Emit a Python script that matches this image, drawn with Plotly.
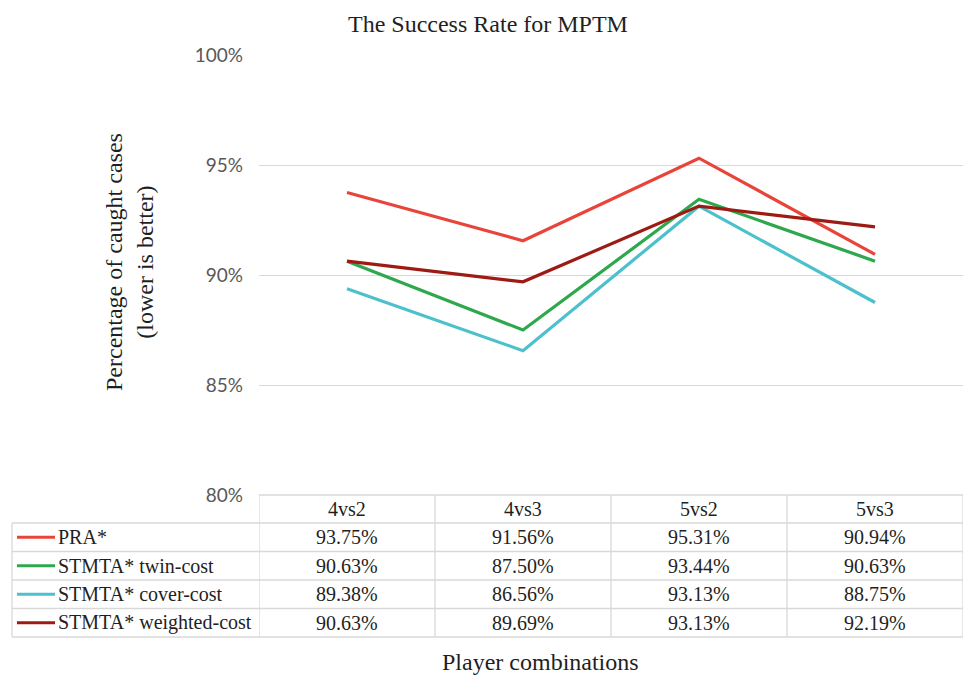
import plotly.graph_objects as go

categories = ["4vs2", "4vs3", "5vs2", "5vs3"]
series_names = ["PRA*", "STMTA* twin-cost", "STMTA* cover-cost", "STMTA* weighted-cost"]
pra = [0.9375, 0.9156, 0.9531, 0.9094]
twin_cost = [0.9063, 0.8750, 0.9344, 0.9063]
cover_cost = [0.8938, 0.8656, 0.9313, 0.8875]
weighted_cost = [0.9063, 0.8969, 0.9313, 0.9219]
series_values = [pra, twin_cost, cover_cost, weighted_cost]
colors = ["#E8443A", "#2EA84C", "#4CC0CC", "#9E1B14"]

W, H = 965, 680
L, R, T, B = 259, 963, 55, 495  # plot area in pixels
PW, PH = R - L, B - T

def px(x):
    return (x - L) / PW

def py(y):
    return (B - y) / PH

serif = "Liberation Serif, Times New Roman, serif"
grid = "#d9d9d9"
txt = "#1f1f1f"

fig = go.Figure()
for name, vals, c in zip(series_names, series_values, colors):
    fig.add_trace(go.Scatter(x=categories, y=vals, mode="lines", name=name,
                             line=dict(color=c, width=3.2), showlegend=False,
                             hoverinfo="skip"))

shapes = []
annotations = []

# table geometry
header_top = B
row_h = 28.5
row_tops = [B + 28 + i * row_h for i in range(len(series_names) + 1)]
table_left = 12
table_bottom = row_tops[-1]

# horizontal lines
shapes.append(dict(type="line", xref="paper", yref="paper", x0=px(L), x1=px(R),
                   y0=py(header_top), y1=py(header_top), line=dict(color=grid, width=1.3)))
for yt in row_tops:
    shapes.append(dict(type="line", xref="paper", yref="paper", x0=px(table_left), x1=px(R),
                       y0=py(yt), y1=py(yt), line=dict(color=grid, width=1.3)))
# vertical lines
shapes.append(dict(type="line", xref="paper", yref="paper", x0=px(table_left), x1=px(table_left),
                   y0=py(row_tops[0]), y1=py(table_bottom), line=dict(color=grid, width=1.3)))
for i in range(len(categories) + 1):
    shapes.append(dict(type="line", xref="x", yref="paper", x0=i - 0.5, x1=i - 0.5,
                       y0=py(header_top), y1=py(table_bottom), line=dict(color=grid, width=1.3)))

# header text
for c in categories:
    annotations.append(dict(x=c, xref="x", y=py((header_top + row_tops[0]) / 2), yref="paper",
                            text=c, showarrow=False, xanchor="center", yanchor="middle",
                            font=dict(family=serif, size=20, color=txt)))
# rows
for r, (name, vals, col) in enumerate(zip(series_names, series_values, colors)):
    yc = (row_tops[r] + row_tops[r + 1]) / 2
    shapes.append(dict(type="line", xref="paper", yref="paper", x0=px(17), x1=px(55),
                       y0=py(yc), y1=py(yc), line=dict(color=col, width=3.2)))
    annotations.append(dict(x=px(56), xref="paper", y=py(yc), yref="paper", text=name,
                            showarrow=False, xanchor="left", yanchor="middle",
                            font=dict(family=serif, size=20, color=txt)))
    for c, v in zip(categories, vals):
        annotations.append(dict(x=c, xref="x", y=py(yc), yref="paper", text=f"{v*100:.2f}%",
                                showarrow=False, xanchor="center", yanchor="middle",
                                font=dict(family=serif, size=20, color=txt)))

# titles
annotations.append(dict(x=px(487.5), xref="paper", y=py(24), yref="paper",
                        text="The Success Rate for MPTM", showarrow=False,
                        xanchor="center", yanchor="middle",
                        font=dict(family=serif, size=24, color=txt)))
annotations.append(dict(x=px(540), xref="paper", y=py(662), yref="paper",
                        text="Player combinations", showarrow=False,
                        xanchor="center", yanchor="middle",
                        font=dict(family=serif, size=24, color=txt)))
annotations.append(dict(x=px(129), xref="paper", y=py(262), yref="paper",
                        text="Percentage of caught cases<br>(lower is better)", showarrow=False,
                        textangle=-90, xanchor="center", yanchor="middle",
                        font=dict(family=serif, size=24, color=txt)))

fig.update_layout(
    width=W, height=H,
    margin=dict(l=L, r=W - R, t=T, b=H - B, pad=0),
    paper_bgcolor="white", plot_bgcolor="white",
    xaxis=dict(type="category", range=[-0.5, 3.5], showticklabels=False, showgrid=False,
               zeroline=False, showline=False, fixedrange=True),
    yaxis=dict(range=[0.8, 1.0], dtick=0.05, tick0=0.8, tickformat=".0%", showgrid=True,
               gridcolor=grid, gridwidth=1.3, zeroline=False, showline=False,
               ticks="", ticklabelstandoff=15,
               tickfont=dict(family="Lato, Carlito, sans-serif", size=19, color="#595959"),
               fixedrange=True),
    shapes=shapes,
    annotations=annotations,
    showlegend=False,
)

fig.write_html("out.html", config={"displayModeBar": False},
               post_script="document.body.style.margin='0';document.body.style.overflow='hidden';")
